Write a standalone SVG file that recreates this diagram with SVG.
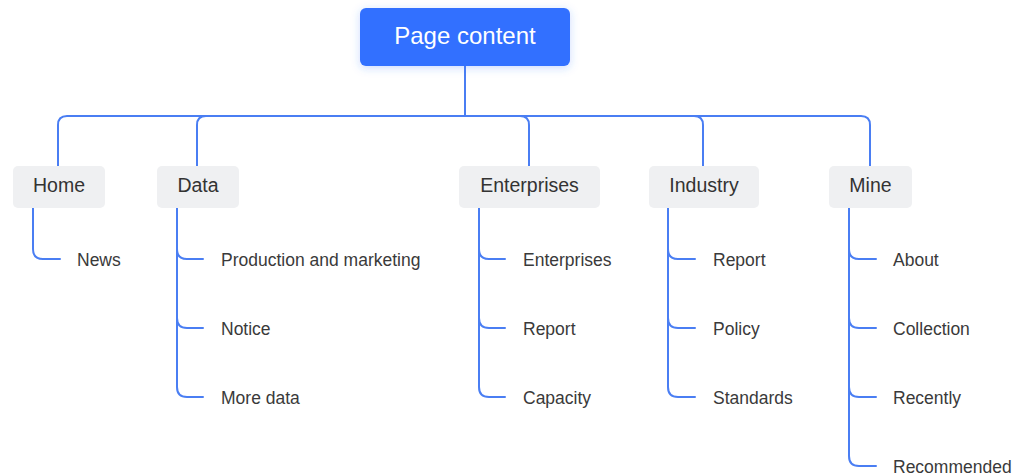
<svg xmlns="http://www.w3.org/2000/svg" width="1015" height="475" viewBox="0 0 1015 475">
  <style>
    .root-box { fill: #3370ff; }
    .root-text { font-family: "Liberation Sans", Arial, sans-serif; font-size: 24px; fill: #ffffff; text-anchor: middle; }
    .topic-box { fill: #eff0f2; }
    .topic-text { font-family: "Liberation Sans", Arial, sans-serif; font-size: 19.5px; fill: #333333; text-anchor: middle; }
    .leaf-text { font-family: "Liberation Sans", Arial, sans-serif; font-size: 17.5px; fill: #3a3a3a; }
    .link { fill: none; stroke: #4a7ef3; stroke-width: 2; stroke-linecap: round; stroke-linejoin: round; }
  </style>
  <defs>
    <filter id="glow" x="-20%" y="-40%" width="140%" height="180%">
      <feDropShadow dx="0" dy="2" stdDeviation="4" flood-color="#3370ff" flood-opacity="0.25"/>
    </filter>
  </defs>
  <rect width="1015" height="475" fill="#ffffff"/>

  <!-- connectors: root to topics, topics to leaves -->
  <g id="connectors">
    <path class="link" d="M465,66 V116 H67 Q58,116 58,125 V166"/>
    <path class="link" d="M465,116 H206 Q197,116 197,125 V166"/>
    <path class="link" d="M465,116 H520 Q529,116 529,125 V166"/>
    <path class="link" d="M465,116 H694 Q703,116 703,125 V166"/>
    <path class="link" d="M465,116 H861 Q870,116 870,125 V166"/>

    <!-- Home -->
    <path class="link" d="M33,208 V249 Q33,259 43,259 H60"/>
    <!-- Data -->
    <path class="link" d="M177,208 V249 Q177,259 187,259 H203"/>
    <path class="link" d="M177,208 V318 Q177,328 187,328 H203"/>
    <path class="link" d="M177,208 V387 Q177,397 187,397 H203"/>
    <!-- Enterprises -->
    <path class="link" d="M479,208 V249 Q479,259 489,259 H505"/>
    <path class="link" d="M479,208 V318 Q479,328 489,328 H505"/>
    <path class="link" d="M479,208 V387 Q479,397 489,397 H505"/>
    <!-- Industry -->
    <path class="link" d="M668,208 V249 Q668,259 678,259 H695"/>
    <path class="link" d="M668,208 V318 Q668,328 678,328 H695"/>
    <path class="link" d="M668,208 V387 Q668,397 678,397 H695"/>
    <!-- Mine -->
    <path class="link" d="M849,208 V249 Q849,259 859,259 H876"/>
    <path class="link" d="M849,208 V318 Q849,328 859,328 H876"/>
    <path class="link" d="M849,208 V387 Q849,397 859,397 H876"/>
    <path class="link" d="M849,208 V456 Q849,466 859,466 H876"/>
  </g>

  <g id="node-root">
    <rect class="root-box" x="360" y="8" width="210" height="58" rx="6" filter="url(#glow)"/>
    <text class="root-text" x="465" y="44">Page content</text>
  </g>

  <g id="node-home">
    <rect class="topic-box" x="13" y="166" width="92" height="42" rx="5"/>
    <text class="topic-text" x="59" y="192">Home</text>
  </g>
  <g id="node-data">
    <rect class="topic-box" x="157" y="166" width="82" height="42" rx="5"/>
    <text class="topic-text" x="198" y="192">Data</text>
  </g>
  <g id="node-enterprises">
    <rect class="topic-box" x="459" y="166" width="141" height="42" rx="5"/>
    <text class="topic-text" x="529.5" y="192">Enterprises</text>
  </g>
  <g id="node-industry">
    <rect class="topic-box" x="649" y="166" width="110" height="42" rx="5"/>
    <text class="topic-text" x="704" y="192">Industry</text>
  </g>
  <g id="node-mine">
    <rect class="topic-box" x="829" y="166" width="83" height="42" rx="5"/>
    <text class="topic-text" x="870.5" y="192">Mine</text>
  </g>

  <g id="node-news"><text class="leaf-text" x="77" y="266">News</text></g>

  <g id="node-production"><text class="leaf-text" x="221" y="266">Production and marketing</text></g>
  <g id="node-notice"><text class="leaf-text" x="221" y="335">Notice</text></g>
  <g id="node-more-data"><text class="leaf-text" x="221" y="404">More data</text></g>

  <g id="node-ent-enterprises"><text class="leaf-text" x="523" y="266">Enterprises</text></g>
  <g id="node-ent-report"><text class="leaf-text" x="523" y="335">Report</text></g>
  <g id="node-ent-capacity"><text class="leaf-text" x="523" y="404">Capacity</text></g>

  <g id="node-ind-report"><text class="leaf-text" x="713" y="266">Report</text></g>
  <g id="node-ind-policy"><text class="leaf-text" x="713" y="335">Policy</text></g>
  <g id="node-ind-standards"><text class="leaf-text" x="713" y="404">Standards</text></g>

  <g id="node-about"><text class="leaf-text" x="893" y="266">About</text></g>
  <g id="node-collection"><text class="leaf-text" x="893" y="335">Collection</text></g>
  <g id="node-recently"><text class="leaf-text" x="893" y="404">Recently</text></g>
  <g id="node-recommended"><text class="leaf-text" x="893" y="473">Recommended</text></g>
</svg>
